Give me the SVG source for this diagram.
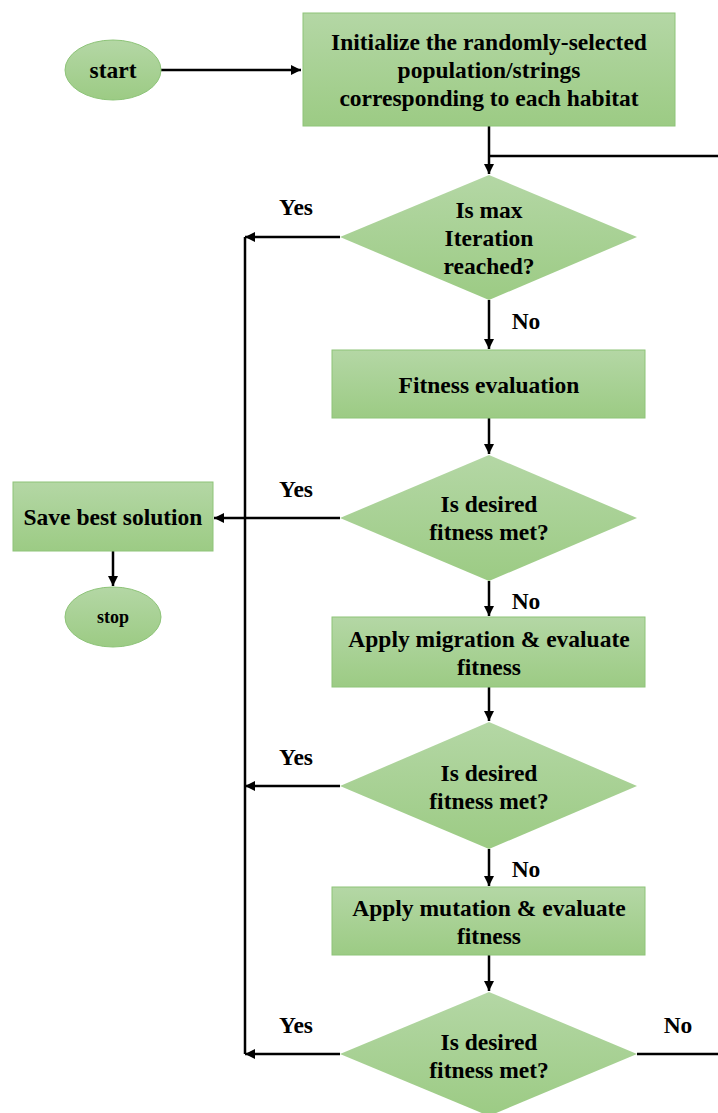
<svg xmlns="http://www.w3.org/2000/svg" width="718" height="1113" viewBox="0 0 718 1113" font-family="Liberation Serif, Times New Roman, serif">
<style>
.t{font-weight:bold;font-size:23.5px;fill:#000;text-anchor:middle}
.s{font-size:18px}
.box{fill:url(#g);stroke:#8ec479;stroke-width:1}
.dia{fill:url(#g);stroke:none}
.ln{stroke:#000;stroke-width:2.5;fill:none}
</style>
<defs>
<linearGradient id="g" x1="0" y1="0" x2="0" y2="1">
<stop offset="0" stop-color="#b4d7a5"/>
<stop offset="1" stop-color="#9ccb84"/>
</linearGradient>
<marker id="a" viewBox="0 0 10 10" refX="10" refY="5" markerWidth="4" markerHeight="4" orient="auto" markerUnits="strokeWidth">
<path d="M0,0 L10,5 L0,10 z" fill="#000"/>
</marker>
</defs>
<g id="connectors">
<path class="ln" d="M161,70 H301" marker-end="url(#a)"/>
<path class="ln" d="M489,126 V174" marker-end="url(#a)"/>
<path class="ln" d="M718,156 H489"/>
<path class="ln" d="M340,237 H245" marker-end="url(#a)"/>
<path class="ln" d="M245,237 V1054"/>
<path class="ln" d="M489,300 V349" marker-end="url(#a)"/>
<path class="ln" d="M489,418 V454" marker-end="url(#a)"/>
<path class="ln" d="M340,518 H214" marker-end="url(#a)"/>
<path class="ln" d="M113,551 V586" marker-end="url(#a)"/>
<path class="ln" d="M489,581 V616" marker-end="url(#a)"/>
<path class="ln" d="M489,687 V721" marker-end="url(#a)"/>
<path class="ln" d="M340,786 H245" marker-end="url(#a)"/>
<path class="ln" d="M489,849 V886" marker-end="url(#a)"/>
<path class="ln" d="M489,955 V991" marker-end="url(#a)"/>
<path class="ln" d="M340,1054 H245" marker-end="url(#a)"/>
<path class="ln" d="M637,1054 H718"/>
<text class="t" x="296" y="215">Yes</text>
<text class="t" x="526" y="329">No</text>
<text class="t" x="296" y="497">Yes</text>
<text class="t" x="526" y="609">No</text>
<text class="t" x="296" y="765">Yes</text>
<text class="t" x="526" y="877">No</text>
<text class="t" x="296" y="1033">Yes</text>
<text class="t" x="678" y="1033">No</text>
</g>
<g id="start">
<ellipse class="box" cx="113" cy="70" rx="48" ry="30"/>
<text class="t" x="113" y="78">start</text>
</g>
<g id="init">
<rect class="box" x="303" y="13" width="372" height="113"/>
<text class="t" x="489" y="50">Initialize the randomly-selected</text>
<text class="t" x="489" y="78">population/strings</text>
<text class="t" x="489" y="106">corresponding to each habitat</text>
</g>
<g id="maxiter">
<polygon class="dia" points="489,175 637,237 489,300 340,237"/>
<text class="t" x="489" y="218">Is max</text>
<text class="t" x="489" y="246">Iteration</text>
<text class="t" x="489" y="274">reached?</text>
</g>
<g id="fitness">
<rect class="box" x="332" y="350" width="313" height="68"/>
<text class="t" x="489" y="393">Fitness evaluation</text>
</g>
<g id="desired1">
<polygon class="dia" points="489,455 637,518 489,581 340,518"/>
<text class="t" x="489" y="512">Is desired</text>
<text class="t" x="489" y="540">fitness met?</text>
</g>
<g id="save">
<rect class="box" x="13" y="482" width="200" height="69"/>
<text class="t" x="113" y="525">Save best solution</text>
</g>
<g id="stop">
<ellipse class="box" cx="113" cy="617" rx="48" ry="30"/>
<text class="t s" x="113" y="623">stop</text>
</g>
<g id="migration">
<rect class="box" x="332" y="617" width="313" height="70"/>
<text class="t" x="489" y="647">Apply migration &amp; evaluate</text>
<text class="t" x="489" y="675">fitness</text>
</g>
<g id="desired2">
<polygon class="dia" points="489,722 637,786 489,849 340,786"/>
<text class="t" x="489" y="781">Is desired</text>
<text class="t" x="489" y="809">fitness met?</text>
</g>
<g id="mutation">
<rect class="box" x="332" y="887" width="313" height="68"/>
<text class="t" x="489" y="916">Apply mutation &amp; evaluate</text>
<text class="t" x="489" y="944">fitness</text>
</g>
<g id="desired3">
<polygon class="dia" points="489,992 637,1054 489,1116 340,1054"/>
<text class="t" x="489" y="1050">Is desired</text>
<text class="t" x="489" y="1078">fitness met?</text>
</g>
</svg>
